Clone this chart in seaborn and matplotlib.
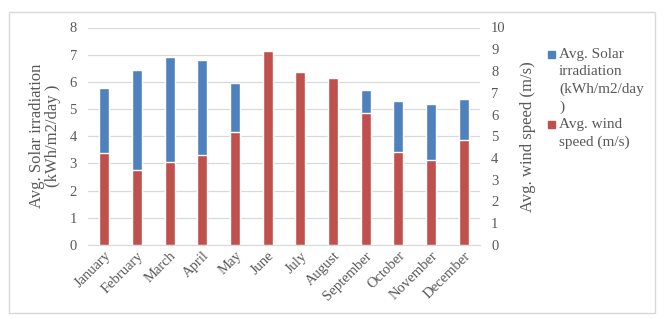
import pandas as pd
import matplotlib.pyplot as plt
import matplotlib.patches as mpatches
import seaborn as sns

months = ['January', 'February', 'March', 'April', 'May', 'June', 'July',
          'August', 'September', 'October', 'November', 'December']
solar = [5.78, 6.42, 6.91, 6.80, 5.97, 6.60, 6.20, 6.00, 5.70, 5.28, 5.20, 5.36]
wind = [4.22, 3.46, 3.80, 4.14, 5.18, 8.92, 7.95, 7.66, 6.08, 4.26, 3.92, 4.84]

df = pd.DataFrame({'month': months, 'solar': solar, 'wind': wind})

sns.set_style('white')
plt.rcParams['font.family'] = ['Liberation Serif', 'DejaVu Serif']
text_col = '#595959'
blue = '#4f81bd'
red = '#c0504d'

W, H = 666, 319
fig = plt.figure(figsize=(6.66, 3.19), dpi=100)
ax = fig.add_axes([88/W, 1 - 245/H, 392/W, 217.5/H])
ax2 = ax.twinx()

sns.barplot(data=df, x='month', y='solar', color=blue, width=0.31,
            saturation=1, ax=ax)
sns.barplot(data=df, x='month', y='wind', color=red, width=0.31,
            saturation=1, ax=ax2)

ax.set_xlim(-0.5, 11.5)
ax.set_ylim(0, 8)
ax2.set_ylim(0, 10)
ax.set_yticks(range(0, 9))
ax2.set_yticks(range(0, 11))
ax.yaxis.grid(True, color='#d9d9d9', linewidth=0.9)
ax.set_axisbelow(True)

for a in (ax, ax2):
    for s in a.spines.values():
        s.set_visible(False)
    a.tick_params(length=0, labelsize=10.5, colors=text_col, pad=8)
ax.spines['bottom'].set_visible(True)
ax.spines['bottom'].set_color('#d9d9d9')

ax.set_xlabel('')
ax.set_xticks(range(len(months)))
ax.set_xticklabels(months, rotation=45, ha='right', rotation_mode='anchor',
                   fontsize=10.5)
ax.tick_params(axis='x', pad=3)

ax.set_ylabel('Avg. Solar irradiation\n(kWh/m2/day )', fontsize=12,
              color=text_col, labelpad=6, linespacing=1.0)
ax2.set_ylabel('Avg. wind speed (m/s)', fontsize=12, color=text_col,
               labelpad=10)

# legend drawn by hand so the squares sit on the first text line
legend_items = [(blue, 'Avg. Solar\nirradiation\n(kWh/m2/day\n)', 51),
                (red, 'Avg. wind\nspeed (m/s)', 121)]
for col, label, y in legend_items:
    fig.patches.append(mpatches.Rectangle((548/W, 1 - (y + 7)/H), 7/W, 7/H,
                                          transform=fig.transFigure,
                                          color=col))
    fig.text(559/W, 1 - (y - 3)/H, label, fontsize=11, color=text_col,
             va='top', ha='left', linespacing=1.42)

fig.patches.append(mpatches.Rectangle((9/W, 1 - 313/H), 646/W, 301/H,
                                      transform=fig.transFigure, fill=False,
                                      edgecolor='#d9d9d9', linewidth=1))

fig.savefig('out.png', dpi=100)
